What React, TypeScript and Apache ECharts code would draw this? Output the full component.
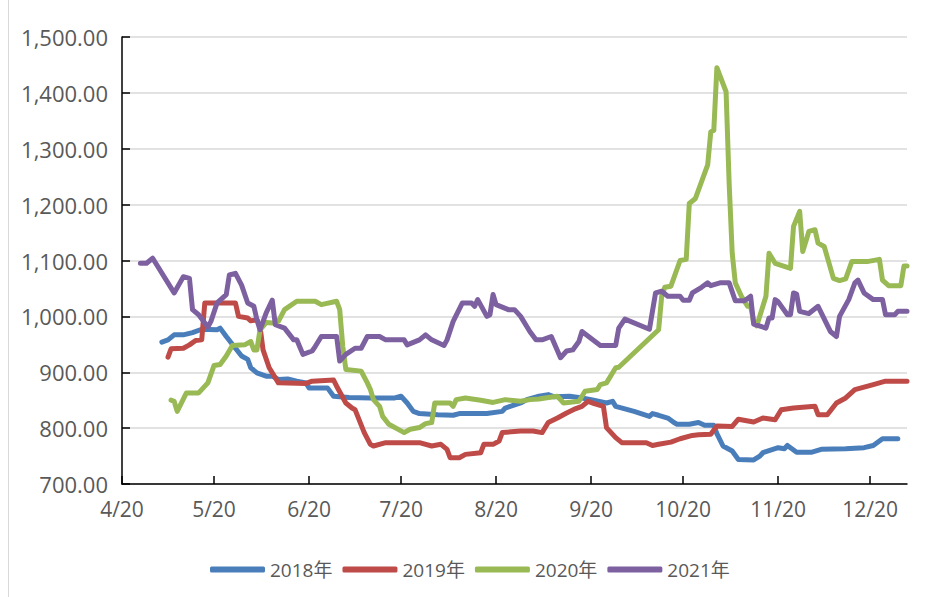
import React, { useEffect, useRef } from "react";
import * as echarts from "echarts";

// x = days after 4/20
const xTickDays = [0, 30, 61, 91, 122, 153, 183, 214, 244];
const xTickLabels = ["4/20", "5/20", "6/20", "7/20", "8/20", "9/20", "10/20", "11/20", "12/20"];
const yTicks = [700, 800, 900, 1000, 1100, 1200, 1300, 1400, 1500];

const seriesNames = ["2018年", "2019年", "2020年", "2021年"];
const seriesColors = ["#4A7EBB", "#BE4B48", "#98B954", "#7D60A0"];

const data2018: [number, number][] = [
  [13, 954], [15, 958], [17, 967], [20, 967], [23, 971], [26, 977], [31, 976], [32, 979], [34, 964], [37, 943],
  [39, 929], [41, 923], [42, 908], [44, 899], [47, 893], [49, 893], [51, 887], [54, 888], [57, 884], [60, 881],
  [61, 872], [67, 872], [69, 857], [74, 855], [81, 854], [89, 854], [91, 857], [93, 845], [95, 830], [97, 826],
  [103, 824], [108, 823], [110, 826], [119, 826], [124, 830], [125, 836], [130, 845], [132, 851], [136, 857], [139, 860],
  [141, 856], [146, 857], [150, 854], [153, 851], [158, 845], [160, 848], [161, 839], [167, 830], [172, 821], [173, 826],
  [175, 823], [178, 818], [180, 810], [181, 807], [185, 807], [188, 810], [190, 805], [193, 805], [194, 790], [196, 768],
  [199, 759], [201, 744], [206, 743], [208, 750], [209, 756], [214, 765], [216, 763], [217, 769], [220, 757], [225, 757],
  [228, 762], [236, 763], [242, 765], [245, 769], [248, 781], [253, 781],
];

const data2019: [number, number][] = [
  [15, 927], [16, 942], [20, 943], [22, 949], [24, 957], [26, 958], [27, 1024], [37, 1024], [38, 1000], [41, 997],
  [42, 992], [44, 994], [45, 982], [46, 940], [48, 908], [49, 899], [51, 881], [60, 880], [62, 884], [69, 886],
  [70, 875], [73, 845], [75, 836], [76, 833], [79, 792], [81, 771], [82, 768], [86, 774], [97, 774], [101, 768],
  [104, 771], [106, 762], [107, 747], [110, 747], [112, 753], [117, 756], [118, 771], [121, 771], [123, 777], [124, 792],
  [130, 795], [134, 795], [137, 792], [139, 810], [142, 818], [145, 827], [148, 835], [150, 839], [152, 848], [154, 844],
  [157, 839], [158, 801], [161, 783], [163, 774], [171, 774], [173, 769], [175, 771], [179, 775], [182, 781], [186, 787],
  [188, 788], [192, 789], [194, 804], [199, 803], [201, 816], [206, 811], [209, 818], [213, 815], [215, 833], [219, 836],
  [223, 838], [226, 839], [227, 824], [230, 824], [233, 845], [236, 854], [239, 869], [245, 878], [249, 884], [256, 884],
];

const data2020: [number, number][] = [
  [16, 850], [17, 848], [18, 830], [21, 863], [25, 863], [28, 881], [30, 912], [32, 914], [34, 929], [36, 948],
  [40, 949], [42, 955], [43, 940], [44, 940], [45, 976], [47, 989], [49, 988], [51, 991], [53, 1012], [57, 1027],
  [63, 1027], [65, 1021], [70, 1027], [71, 1012], [72, 946], [73, 905], [78, 902], [80, 881], [81, 869], [82, 851],
  [84, 839], [85, 821], [87, 807], [91, 795], [92, 792], [94, 798], [97, 801], [99, 808], [101, 810], [102, 845],
  [107, 845], [108, 839], [109, 851], [112, 854], [117, 850], [121, 846], [125, 851], [130, 848], [133, 851], [136, 852],
  [138, 854], [142, 857], [144, 845], [149, 848], [151, 866], [155, 869], [156, 878], [158, 881], [161, 908], [162, 909],
  [175, 976], [176, 1036], [177, 1052], [179, 1054], [182, 1100], [184, 1102], [185, 1202], [187, 1211], [191, 1271], [192, 1330],
  [193, 1333], [194, 1445], [197, 1402], [198, 1238], [199, 1113], [200, 1060], [202, 1036], [204, 1018], [205, 1018], [206, 990],
  [207, 983], [210, 1036], [211, 1113], [213, 1095], [218, 1086], [219, 1161], [221, 1188], [222, 1116], [224, 1152], [226, 1155],
  [227, 1131], [229, 1125], [232, 1068], [234, 1064], [236, 1067], [238, 1098], [243, 1098], [247, 1102], [248, 1065], [250, 1055],
  [254, 1055], [255, 1090], [256, 1090],
];

const data2021: [number, number][] = [
  [6, 1095], [8, 1095], [10, 1104], [17, 1042], [20, 1071], [22, 1068], [23, 1012], [25, 1003], [28, 981], [29, 991],
  [31, 1024], [34, 1039], [35, 1074], [37, 1077], [39, 1056], [41, 1024], [43, 1018], [44, 994], [45, 976], [47, 1006],
  [49, 1029], [50, 985], [53, 979], [56, 958], [57, 958], [59, 932], [62, 938], [63, 946], [65, 964], [70, 964],
  [71, 920], [73, 932], [76, 943], [78, 943], [80, 964], [84, 964], [86, 958], [92, 958], [93, 949], [97, 958],
  [99, 967], [101, 958], [105, 948], [106, 958], [108, 991], [111, 1024], [114, 1024], [115, 1018], [116, 1030], [119, 1000],
  [120, 1003], [121, 1039], [122, 1021], [126, 1012], [128, 1012], [130, 1000], [133, 973], [135, 958], [137, 958], [140, 964],
  [143, 926], [145, 938], [147, 940], [149, 955], [150, 973], [156, 948], [161, 948], [162, 979], [164, 995], [172, 977],
  [174, 1042], [176, 1045], [178, 1036], [182, 1036], [183, 1029], [185, 1029], [186, 1042], [189, 1052], [191, 1060], [192, 1055],
  [195, 1060], [198, 1060], [200, 1028], [203, 1028], [205, 1036], [206, 986], [210, 979], [211, 997], [212, 997], [213, 1030],
  [214, 1026], [217, 1003], [218, 1003], [219, 1042], [220, 1040], [221, 1009], [224, 1005], [227, 1018], [231, 973], [233, 964],
  [234, 1000], [237, 1030], [239, 1060], [240, 1065], [242, 1042], [245, 1030], [248, 1030], [249, 1003], [252, 1003], [253, 1009],
  [256, 1009],
];

const allData = [data2018, data2019, data2020, data2021];

const FONT = "'Open Sans', 'Noto Sans CJK SC', sans-serif";
const TEXT_COLOR = "#595959";

export default function App() {
  const ref = useRef<HTMLDivElement>(null);
  useEffect(() => {
    if (!ref.current) return;
    const chart = echarts.init(ref.current, undefined, { renderer: "svg" });
    chart.setOption({
      animation: false,
      backgroundColor: "#ffffff",
      textStyle: { fontFamily: FONT },
      grid: { left: 122, right: 18, top: 37, bottom: 113, containLabel: false },
      graphic: [
        {
          type: "line",
          shape: { x1: 8.5, y1: 0, x2: 8.5, y2: 597 },
          style: { stroke: "#d9d9d9", lineWidth: 1 },
        },
      ],
      legend: {
        data: seriesNames,
        top: 555,
        left: 205,
        icon: "roundRect",
        itemWidth: 55,
        itemHeight: 6,
        itemGap: 10,
        textStyle: { fontSize: 19, color: TEXT_COLOR, fontFamily: FONT },
      },
      xAxis: {
        type: "value",
        min: 0,
        max: 256,
        splitLine: { show: false },
        axisLine: { show: true, lineStyle: { color: "#000000", width: 1.5 } },
        axisTick: {
          show: true,
          inside: true,
          length: 8,
          customValues: xTickDays,
          lineStyle: { color: "#000000", width: 1.5 },
        },
        axisLabel: {
          customValues: xTickDays,
          formatter: (v: number) => {
            const i = xTickDays.indexOf(Math.round(v));
            return i >= 0 ? xTickLabels[i] : "";
          },
          fontSize: 21,
          color: TEXT_COLOR,
          margin: 14,
          fontFamily: FONT,
        },
      },
      yAxis: {
        type: "value",
        min: yTicks[0],
        max: yTicks[yTicks.length - 1],
        interval: 100,
        axisLine: { show: true, lineStyle: { color: "#000000", width: 1.5 } },
        axisTick: { show: true, inside: true, length: 8, lineStyle: { color: "#000000", width: 1.5 } },
        splitLine: { show: true, lineStyle: { color: "#d9d9d9", width: 1.5 } },
        axisLabel: {
          formatter: (v: number) =>
            v.toLocaleString("en-US", { minimumFractionDigits: 2, maximumFractionDigits: 2 }),
          fontSize: 22,
          color: TEXT_COLOR,
          margin: 14,
          fontFamily: FONT,
        },
      },
      series: seriesNames.map((name, i) => ({
        name,
        type: "line",
        data: allData[i],
        showSymbol: false,
        symbol: "none",
        smooth: false,
        z: 2 + i,
        itemStyle: { color: seriesColors[i] },
        lineStyle: { color: seriesColors[i], width: 5, cap: "round", join: "round" },
      })),
    });
    return () => chart.dispose();
  }, []);
  return (
    <div
      ref={ref}
      style={{ position: "fixed", left: 0, top: 0, width: 925, height: 597, background: "#fff" }}
    />
  );
}
